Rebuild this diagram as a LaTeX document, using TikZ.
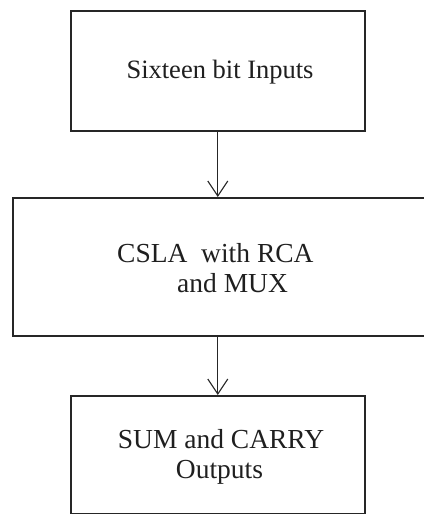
\documentclass[tikz,border=0pt]{standalone}
\usepackage{fontspec}
\setmainfont{Liberation Serif}
\usetikzlibrary{arrows.meta}
\begin{document}
\begin{tikzpicture}[x=1pt,y=-1pt,
  box/.style={draw=black!85, line width=1.6pt, minimum width=#1, inner sep=0pt, anchor=north west},
  lbl/.style={inner sep=0pt, text=black!88, font=\fontsize{27.5}{30}\selectfont},
  conn/.style={draw=black!85, line width=1.1pt, -{Straight Barb[length=15pt,width=20pt,line width=1.1pt]}}]
\useasboundingbox (0,0) rectangle (423,514);
\node[box=294pt, minimum height=120pt] (b1) at (70,10) {};
\node[box=414pt, minimum height=138pt] (b2) at (12,197) {};
\node[box=294pt, minimum height=118pt] (b3) at (70,395) {};
\node[lbl, anchor=base, font=\fontsize{26.5}{30}\selectfont] (t1) at (220,78) {Sixteen bit Inputs};
\node[lbl, anchor=base west] (t2) at (117,262) {CSLA\ \ with RCA};
\node[lbl, anchor=base west] (t3) at (177,292) {and MUX};
\node[lbl, anchor=base] (t4) at (221,448) {SUM and CARRY};
\node[lbl, anchor=base] (t5) at (219.5,478) {Outputs};
\draw[conn] (b1.south) -- (b1.south |- b2.north);
\draw[conn] (b1.south |- b2.south) -- (b1.south |- b3.north);
\end{tikzpicture}
\end{document}
